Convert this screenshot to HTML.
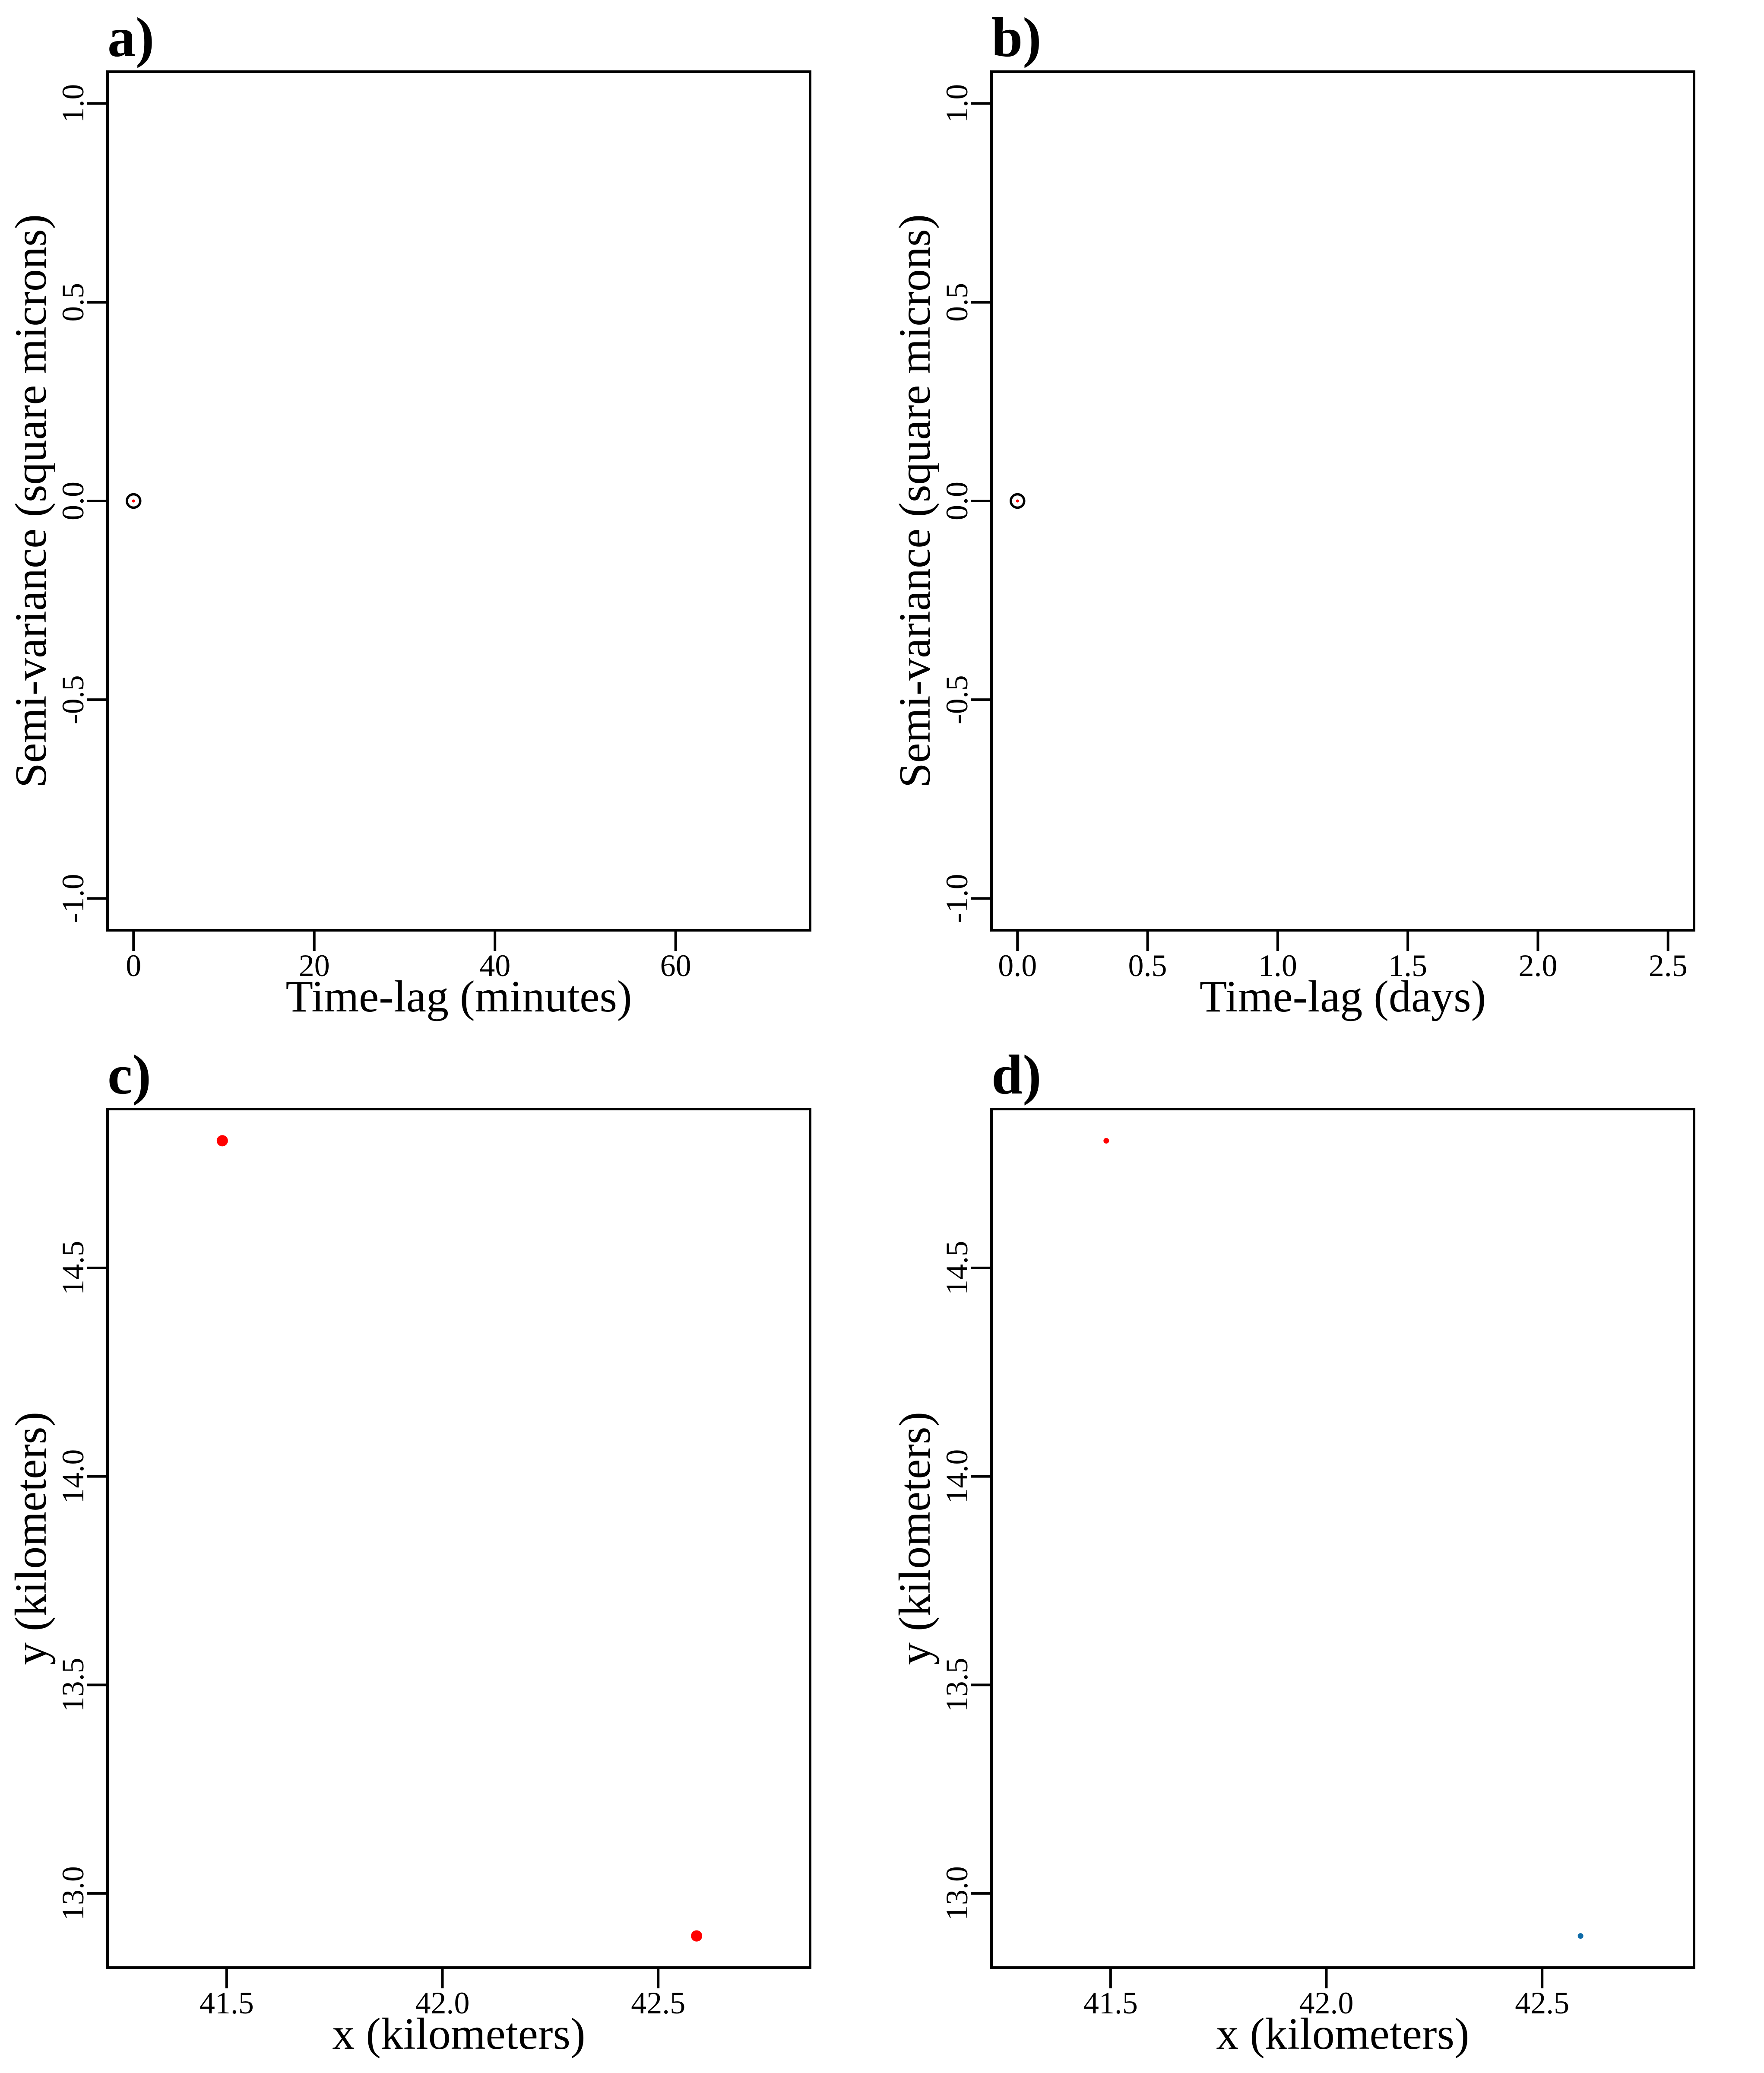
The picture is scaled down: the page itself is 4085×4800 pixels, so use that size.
<!DOCTYPE html>
<html><head><meta charset="utf-8">
<style>
html,body{margin:0;padding:0;background:#fff;}
svg{display:block;}
text{font-family:"Liberation Serif","DejaVu Serif",serif;fill:#000;}
</style></head>
<body>
<svg id="fig" xmlns="http://www.w3.org/2000/svg" width="4085" height="4800" viewBox="0 0 4085 4800"></svg>
<script>
// ---- data ----
const panelLabels = ["a)", "b)", "c)", "d)"];
const xTitles = ["Time-lag (minutes)", "Time-lag (days)", "x (kilometers)", "x (kilometers)"];
const yTitles = ["Semi-variance (square microns)", "Semi-variance (square microns)", "y (kilometers)", "y (kilometers)"];
const xTicksA = [0, 20, 40, 60];
const xTickLabelsA = ["0", "20", "40", "60"];
const xTicksB = [0, 0.5, 1.0, 1.5, 2.0, 2.5];
const xTickLabelsB = ["0.0", "0.5", "1.0", "1.5", "2.0", "2.5"];
const yTicksAB = [-1, -0.5, 0, 0.5, 1];
const yTickLabelsAB = ["-1.0", "-0.5", "0.0", "0.5", "1.0"];
const xTicksCD = [41.5, 42.0, 42.5];
const xTickLabelsCD = ["41.5", "42.0", "42.5"];
const yTicksCD = [13.0, 13.5, 14.0, 14.5];
const yTickLabelsCD = ["13.0", "13.5", "14.0", "14.5"];
const semivarLag = [0];
const semivarValue = [0];
const locX = [41.49, 42.589];
const locY = [14.805, 12.898];
const locColorD = ["#ff0000", "#0e6ba8"];

const NS = "http://www.w3.org/2000/svg";
const svg = document.getElementById("fig");
function mk(tag, attrs, parent) {
  const e = document.createElementNS(NS, tag);
  for (const k in attrs) e.setAttribute(k, attrs[k]);
  (parent || svg).appendChild(e);
  return e;
}
const panels = [
  {L:249, R:1876, T:166, B:2154, xr:[-2.88, 74.88], yr:[-1.08, 1.08], xt:xTicksA, xl:xTickLabelsA, yt:yTicksAB, yl:yTickLabelsAB},
  {L:2296, R:3923, T:166, B:2154, xr:[-0.1, 2.6], yr:[-1.08, 1.08], xt:xTicksB, xl:xTickLabelsB, yt:yTicksAB, yl:yTickLabelsAB},
  {L:249, R:1876, T:2568, B:4556, xr:[41.224, 42.852], yr:[12.822, 14.881], xt:xTicksCD, xl:xTickLabelsCD, yt:yTicksCD, yl:yTickLabelsCD},
  {L:2296, R:3923, T:2568, B:4556, xr:[41.224, 42.852], yr:[12.822, 14.881], xt:xTicksCD, xl:xTickLabelsCD, yt:yTicksCD, yl:yTickLabelsCD}
];
panels.forEach((p, i) => {
  const g = mk("g", {});
  
  
  const sx = v => p.L + (v - p.xr[0]) / (p.xr[1] - p.xr[0]) * (p.R - p.L);
  const sy = v => p.B - (v - p.yr[0]) / (p.yr[1] - p.yr[0]) * (p.B - p.T);
  const lab = mk("text", {x:p.L, y:p.T - 36, "font-size":130, "font-weight":"bold"}, g);
  lab.textContent = panelLabels[i];
  
  
  const box = mk("rect", {x:p.L, y:p.T, width:p.R - p.L, height:p.B - p.T, fill:"none", stroke:"#000", "stroke-width":6}, g);
  
  
  p.xt.forEach((v, j) => {
    const x = sx(v);
    const t = mk("line", {x1:x, x2:x, y1:p.B, y2:p.B + 48, stroke:"#000", "stroke-width":6}, g);
    
    
    const tl = mk("text", {x:x, y:p.B + 106, "font-size":72, "text-anchor":"middle"}, g);
    tl.textContent = p.xl[j];
    
    
  });
  p.yt.forEach((v, j) => {
    const y = sy(v);
    const t = mk("line", {x1:p.L - 48, x2:p.L, y1:y, y2:y, stroke:"#000", "stroke-width":6}, g);
    
    
    const tx = p.L - 56;
    const tl = mk("text", {x:tx, y:y, "font-size":72, "text-anchor":"middle", transform:`rotate(-90 ${tx} ${y})`}, g);
    tl.textContent = p.yl[j];
    
    
  });
  const xt = mk("text", {x:(p.L + p.R) / 2, y:p.B + 188, "font-size":104, "text-anchor":"middle"}, g);
  xt.textContent = xTitles[i];
  
  
  const yx = p.L - 143, yc = (p.T + p.B) / 2;
  const yt = mk("text", {x:yx, y:yc, "font-size":104, "text-anchor":"middle", transform:`rotate(-90 ${yx} ${yc})`}, g);
  yt.textContent = yTitles[i];
  
  

  if (i < 2) {
    semivarLag.forEach((v, k) => {
      const c = mk("circle", {cx:sx(v), cy:sy(semivarValue[k]), r:15.5, fill:"none", stroke:"#000", "stroke-width":5.5}, g);
      
      
      const d = mk("circle", {cx:sx(v), cy:sy(semivarValue[k]), r:3.5, fill:"#ff0000"}, g);
      
      
    });
  } else {
    locX.forEach((v, k) => {
      const c = mk("circle", {cx:sx(v), cy:sy(locY[k]), r:i === 2 ? 13 : 6.5, fill:i === 2 ? "#ff0000" : locColorD[k]}, g);
      
      
    });
  }
});
</script>
</body></html>
